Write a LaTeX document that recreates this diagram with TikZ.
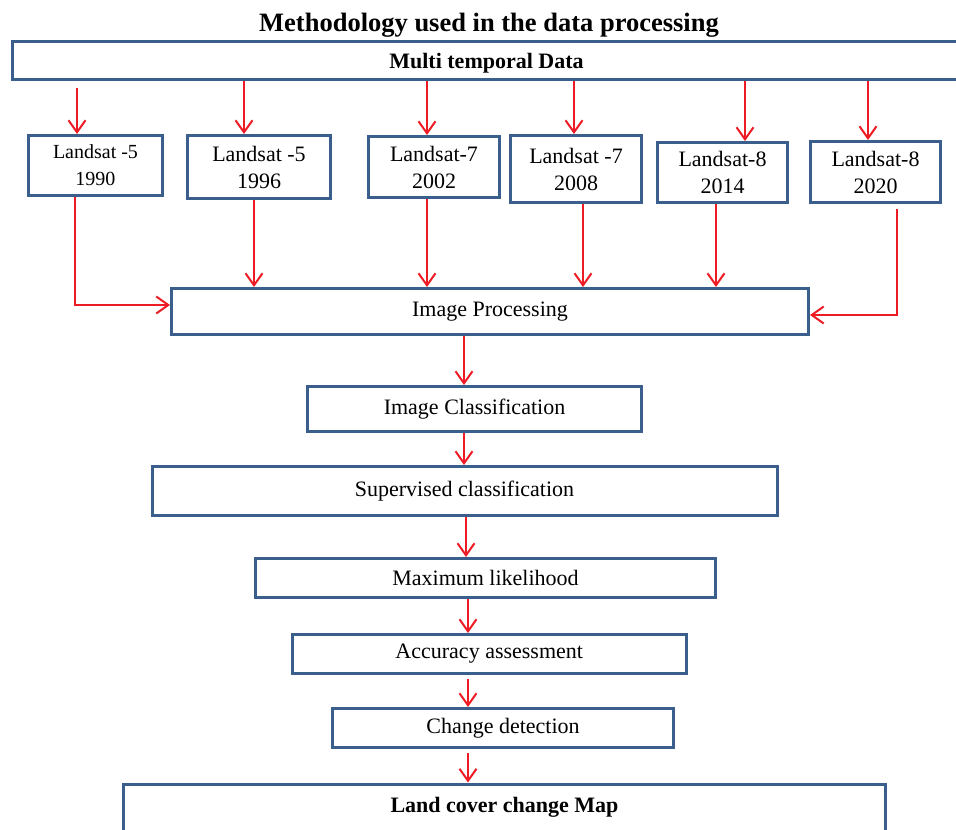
\documentclass[tikz,border=0pt]{standalone}
\usepackage{fontspec}
\setmainfont{Liberation Serif}
\usetikzlibrary{arrows.meta}
\definecolor{boxblue}{RGB}{58,95,140}
\definecolor{arrred}{RGB}{237,28,36}
\tikzset{
  stepbox/.style={draw=boxblue, line width=3pt, fill=white, inner sep=0pt,
    align=center, font=\fontsize{22}{27}\selectfont},
  boldbox/.style={stepbox, font=\bfseries\fontsize{22}{27}\selectfont},
  flowarr/.style={-{Straight Barb[length=12pt,width=17pt]}, draw=arrred,
    line width=2pt},
}

\begin{document}
\begin{tikzpicture}[x=1pt, y=-1pt]
  \useasboundingbox (0,0) rectangle (956,830);
  % Title
  \node[font=\bfseries\fontsize{26.5}{30}\selectfont, anchor=base] at (489,31) (title)
    {Methodology used in the data processing};
  % Row 0: input data
  \node[boldbox, minimum width=948pt, minimum height=38pt, text height=20pt, text depth=4pt]
    at (486.5,60) (multi) {Multi temporal Data};
  % Row 1: the six scenes
  \node[stepbox, font=\fontsize{20}{27}\selectfont, minimum width=134pt, minimum height=60pt]
    at (95.5,165.5) (land1) {Landsat -5\\1990};
  \node[stepbox, minimum width=143pt, minimum height=63pt] at (259,167) (land2) {Landsat -5\\1996};
  \node[stepbox, minimum width=131pt, minimum height=61pt] at (434,167) (land3) {Landsat-7\\2002};
  \node[stepbox, minimum width=131pt, minimum height=67pt] at (576,169) (land4) {Landsat -7\\2008};
  \node[stepbox, minimum width=130pt, minimum height=60pt] at (722.5,172.5) (land5) {Landsat-8\\2014};
  \node[stepbox, minimum width=130pt, minimum height=61pt] at (875.5,172) (land6) {Landsat-8\\2020};
  % Processing chain
  \node[stepbox, minimum width=637pt, minimum height=46pt] at (490,311.5) (improc) {Image Processing};
  \node[stepbox, minimum width=334pt, minimum height=45pt] at (474.5,409) (imclass) {Image Classification};
  \node[stepbox, minimum width=625pt, minimum height=49pt] at (464.5,491) (superv) {Supervised classification};
  \node[stepbox, minimum width=460pt, minimum height=39pt] at (485.5,578) (maxlik) {Maximum likelihood};
  \node[stepbox, minimum width=394pt, minimum height=39pt] at (489.25,654) (accur) {Accuracy assessment};
  \node[stepbox, minimum width=341pt, minimum height=39pt] at (503,728) (change) {Change detection};
  \node[boldbox, minimum width=762pt, minimum height=88pt, text height=15pt, text depth=47pt]
    at (504.5,828) (landmap) {Land cover change Map};
  % Edges: data to scenes
  \draw[flowarr] ([xshift=-18.5pt,yshift=-7pt]land1.north |- multi.south) -- ([xshift=-18.5pt]land1.north);
  \draw[flowarr] ([xshift=-15pt]land2.north |- multi.south) -- ([xshift=-15pt]land2.north);
  \draw[flowarr] ([xshift=-7pt]land3.north |- multi.south) -- ([xshift=-7pt]land3.north);
  \draw[flowarr] ([xshift=-2pt]land4.north |- multi.south) -- ([xshift=-2pt]land4.north);
  \draw[flowarr] ([xshift=22.5pt]land5.north |- multi.south) -- ([xshift=22.5pt]land5.north);
  \draw[flowarr] ([xshift=-7.5pt]land6.north |- multi.south) -- ([xshift=-7.5pt]land6.north);
  % Edges: scenes to image processing
  \draw[flowarr] ([xshift=-20.5pt]land1.south) |- ([yshift=6.5pt]improc.west);
  \draw[flowarr] ([xshift=-5pt]land2.south) -- ([xshift=-5pt]land2.south |- improc.north);
  \draw[flowarr] ([xshift=-7pt]land3.south) -- ([xshift=-7pt]land3.south |- improc.north);
  \draw[flowarr] ([xshift=7pt]land4.south) -- ([xshift=7pt]land4.south |- improc.north);
  \draw[flowarr] ([xshift=-6.5pt]land5.south) -- ([xshift=-6.5pt]land5.south |- improc.north);
  \draw[flowarr] ([xshift=21.5pt,yshift=-5pt]land6.south) |- ([yshift=-3.5pt]improc.east);
  % Edges: chain
  \draw[flowarr] ([xshift=-26pt]improc.south) -- ([xshift=-26pt]improc.south |- imclass.north);
  \draw[flowarr] ([xshift=-10.5pt]imclass.south) -- ([xshift=-10.5pt]imclass.south |- superv.north);
  \draw[flowarr] ([xshift=1.5pt]superv.south) -- ([xshift=1.5pt]superv.south |- maxlik.north);
  \draw[flowarr] ([xshift=-17.5pt]maxlik.south) -- ([xshift=-17.5pt]maxlik.south |- accur.north);
  \draw[flowarr] ([xshift=-21.25pt,yshift=-4pt]accur.south) -- ([xshift=-21.25pt]accur.south |- change.north);
  \draw[flowarr] ([xshift=-35pt,yshift=-4pt]change.south) -- ([xshift=-35pt]change.south |- landmap.north);
\end{tikzpicture}
\end{document}
